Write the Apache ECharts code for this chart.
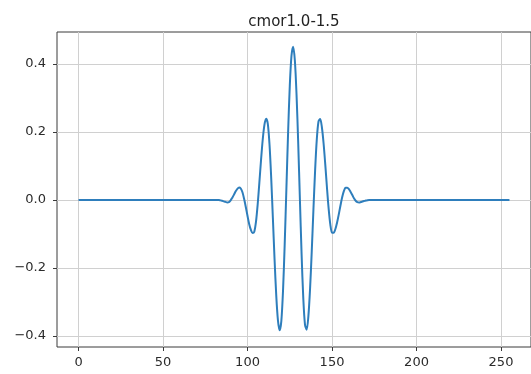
<!DOCTYPE html>
<html>
<head>
<meta charset="utf-8">
<script src="https://cdn.jsdelivr.net/npm/echarts@6/dist/echarts.min.js"></script>
<style>
html, body { margin: 0; padding: 0; background: #fff; }
#main { width: 531px; height: 374px; }
</style>
</head>
<body>
<div id="main"></div>
<script>
// sample index (flat outside 82..172)
var sampleIdx = [0,
	82, 83, 84, 85, 86, 87, 88, 89, 90, 91, 92, 93, 94, 95, 96, 97, 98, 99, 100, 101,
	102, 103, 104, 105, 106, 107, 108, 109, 110, 111, 112, 113, 114, 115, 116, 117, 118, 119, 120, 121,
	122, 123, 124, 125, 126, 127, 128, 129, 130, 131, 132, 133, 134, 135, 136, 137, 138, 139, 140, 141,
	142, 143, 144, 145, 146, 147, 148, 149, 150, 151, 152, 153, 154, 155, 156, 157, 158, 159, 160, 161,
	162, 163, 164, 165, 166, 167, 168, 169, 170, 171, 172,
	255];
// real part of the wavelet
var waveVal = [0,
	0, 0, -0.001, -0.002, -0.004, -0.0055, -0.007, -0.006, -0.001, 0.007, 0.016, 0.026, 0.033, 0.037, 0.034, 0.023, 0.003, -0.021, -0.047, -0.071,
	-0.088, -0.097, -0.093, -0.064, -0.013, 0.051, 0.118, 0.178, 0.221, 0.239, 0.224, 0.164, 0.066, -0.053, -0.175, -0.281, -0.354, -0.383, -0.356, -0.267,
	-0.129, 0.034, 0.197, 0.335, 0.424, 0.451, 0.411, 0.310, 0.166, 0.001, -0.160, -0.289, -0.366, -0.381, -0.342, -0.261, -0.151, -0.028, 0.088, 0.179,
	0.231, 0.238, 0.214, 0.167, 0.105, 0.037, -0.025, -0.072, -0.096, -0.096, -0.085, -0.066, -0.042, -0.016, 0.008, 0.026, 0.036, 0.036, 0.032, 0.024,
	0.015, 0.005, -0.002, -0.006, -0.007, -0.006, -0.0045, -0.003, -0.0015, -0.0004, 0,
	0];
var xTicks = [0, 50, 100, 150, 200, 250];
var yTicks = [-0.4, -0.2, 0, 0.2, 0.4];

var seriesData = [];
for (var i = 0; i < sampleIdx.length; i++) {
	seriesData.push([sampleIdx[i], waveVal[i]]);
}

var gridColor = '#d0d0d0';
var textColor = '#2b2b2b';

var option = {
	animation: false,
	backgroundColor: '#fff',
	title: {
		text: 'cmor1.0-1.5',
		left: 289,
		top: 10,
		textAlign: 'center',
		textStyle: {
			fontFamily: 'DejaVu Sans',
			fontSize: 15,
			fontWeight: 'normal',
			color: '#222'
		}
	},
	grid: {
		left: 57,
		top: 32,
		width: 484,
		height: 315,
		show: true,
		borderColor: '#3a3a3a',
		borderWidth: 1
	},
	xAxis: {
		type: 'value',
		min: -12.75,
		max: 267.75,
		axisLine: { show: false, onZero: false },
		axisTick: {
			show: true,
			inside: false,
			length: 4,
			customValues: xTicks,
			lineStyle: { color: '#3a3a3a' }
		},
		axisLabel: {
			customValues: xTicks,
			margin: 9,
			fontFamily: 'DejaVu Sans',
			fontSize: 13,
			color: textColor
		},
		splitLine: {
			show: true,
			lineStyle: { color: gridColor, width: 1 }
		}
	},
	yAxis: {
		type: 'value',
		min: -0.432,
		max: 0.494,
		axisLine: { show: false, onZero: false },
		axisTick: {
			show: true,
			inside: false,
			length: 4,
			customValues: yTicks,
			lineStyle: { color: '#3a3a3a' }
		},
		axisLabel: {
			customValues: yTicks,
			margin: 11,
			fontFamily: 'DejaVu Sans',
			fontSize: 13,
			color: textColor,
			formatter: function (v) {
				var s = Math.abs(v).toFixed(1);
				return v < 0 ? '\u2212' + s : s;
			}
		},
		splitLine: {
			show: true,
			lineStyle: { color: gridColor, width: 1 }
		}
	},
	series: [{
		name: 'cmor',
		type: 'line',
		data: seriesData,
		smooth: 0.3,
		showSymbol: false,
		lineStyle: { color: '#2e7ebc', width: 2 },
		itemStyle: { color: '#2e7ebc' }
	}]
};

var myChart = echarts.init(document.getElementById('main'));
myChart.setOption(option);
</script>
</body>
</html>
